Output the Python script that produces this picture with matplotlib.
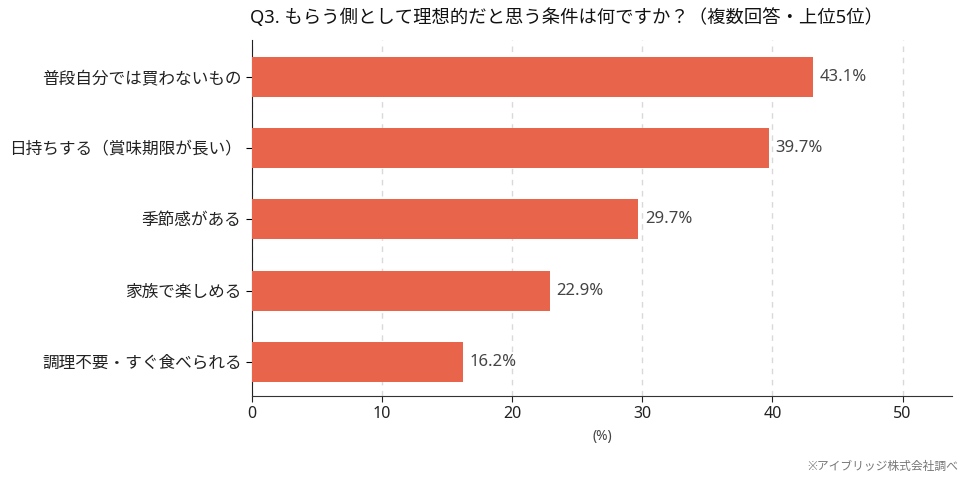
import matplotlib.pyplot as plt

plt.rcParams['font.family'] = ['Noto Sans', 'Noto Sans CJK JP', 'DejaVu Sans']

categories = ['普段自分では買わないもの', '日持ちする（賞味期限が長い）', '季節感がある',
              '家族で楽しめる', '調理不要・すぐ食べられる']
values = [43.1, 39.7, 29.7, 22.9, 16.2]
labels = ['43.1%', '39.7%', '29.7%', '22.9%', '16.2%']

fig = plt.figure(figsize=(9.69, 4.84), dpi=100)
ax = fig.add_axes([252 / 969, 88 / 484, 700 / 969, 356 / 484])

ypos = list(range(len(categories)))
ax.barh(ypos, values, height=0.56, color='#E8644B', zorder=3)
for y, v, t in zip(ypos, values, labels):
    ax.text(v + 0.5, y, t, va='center', ha='left', fontsize=12, color='#444444')

ax.set_yticks(ypos)
ax.set_yticklabels(categories, fontsize=12, color='#222222')
ax.set_ylim(4.48, -0.52)
ax.set_xlim(0, 53.8)
ax.set_xticks([0, 10, 20, 30, 40, 50])
ax.tick_params(axis='x', labelsize=11.5, colors='#222222', length=4)
ax.tick_params(axis='y', length=4)
ax.set_xlabel('(%)', fontsize=10, color='#444444', labelpad=5)

ax.grid(axis='x', linestyle=(0, (4, 4)), color='#d9d9d9', linewidth=1, zorder=0)
ax.spines['top'].set_visible(False)
ax.spines['right'].set_visible(False)
ax.spines['left'].set_color('#222222')
ax.spines['bottom'].set_color('#333333')

ax.set_title('Q3. もらう側として理想的だと思う条件は何ですか？（複数回答・上位5位）',
             loc='left', fontsize=13.2, color='#111111', x=-0.003, pad=12)

fig.text(958 / 969, 1 - 466 / 484, '※アイブリッジ株式会社調べ', ha='right', va='center',
         fontsize=8.5, color='#777777')

fig.savefig('out.png', dpi=100)
